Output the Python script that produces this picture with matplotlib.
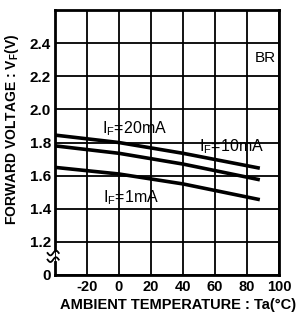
import numpy as np
import matplotlib
matplotlib.use("Agg")
import matplotlib.pyplot as plt

temps = [-40, 0, 40, 88]
vf_20mA = [1.845, 1.80, 1.735, 1.645]
vf_10mA = [1.78, 1.735, 1.67, 1.575]
vf_1mA = [1.65, 1.61, 1.55, 1.455]
xticks = [-40, -20, 0, 20, 40, 60, 80, 100]
xticklabels = ["", "-20", "0", "20", "40", "60", "80", "100"]
yticks = [1.0, 1.2, 1.4, 1.6, 1.8, 2.0, 2.2, 2.4, 2.6]
yticklabels = ["0", "1.2", "1.4", "1.6", "1.8", "2.0", "2.2", "2.4", ""]

plt.rcParams['font.family'] = ['Liberation Sans', 'DejaVu Sans']

fig = plt.figure(figsize=(3.02, 3.15), dpi=100)
ax = fig.add_axes([0.182, 0.127, 0.742, 0.841])
ax.set_xlim(-40, 100)
ax.set_ylim(1.0, 2.6)
ax.set_xticks(xticks)
ax.set_xticklabels(xticklabels, fontsize=10.5, fontweight='bold')
ax.set_yticks(yticks)
ax.set_yticklabels(yticklabels, fontsize=11, fontweight='bold')
ax.tick_params(axis='x', length=0, pad=3.5)
ax.tick_params(axis='y', length=0, pad=3)
ax.grid(True, color='black', linewidth=1.3)
for s in ['top', 'right', 'bottom']:
    ax.spines[s].set_linewidth(2)
ax.spines['left'].set_visible(False)

# left spine with a break
ax.plot([0, 0], [0, 0.049], transform=ax.transAxes, color='black', lw=2, clip_on=False)
ax.plot([0, 0], [0.094, 1], transform=ax.transAxes, color='black', lw=2, clip_on=False)
t = np.linspace(-1, 1, 30)
for base in [0.083, 0.058]:
    ax.plot(-0.008 + t * 0.025, base + 0.009 * np.sin(t * np.pi), transform=ax.transAxes,
            color='black', lw=1.3, clip_on=False)

for vals in [vf_20mA, vf_10mA, vf_1mA]:
    ax.plot(temps, vals, color='black', lw=2.6, solid_capstyle='butt')

ax.text(-10.6, 1.885, r"I$\mathregular{_F}$=20mA", fontsize=11.5, ha='left', va='center')
ax.text(50, 1.775, r"I$\mathregular{_F}$=10mA", fontsize=11.5, ha='left', va='center')
ax.text(-10, 1.465, r"I$\mathregular{_F}$=1mA", fontsize=11.5, ha='left', va='center')
ax.text(98, 2.31, "BR", fontsize=11, ha='right', va='center')

fig.text(0.041, 0.59, r"FORWARD VOLTAGE : V$\mathregular{_F}$(V)", rotation=90,
         fontsize=10, fontweight='bold', ha='center', va='center')
fig.text(0.59, 0.032, "AMBIENT TEMPERATURE : Ta(°C)", fontsize=10.5, fontweight='bold',
         ha='center', va='center')

fig.savefig("out.png", dpi=100)
